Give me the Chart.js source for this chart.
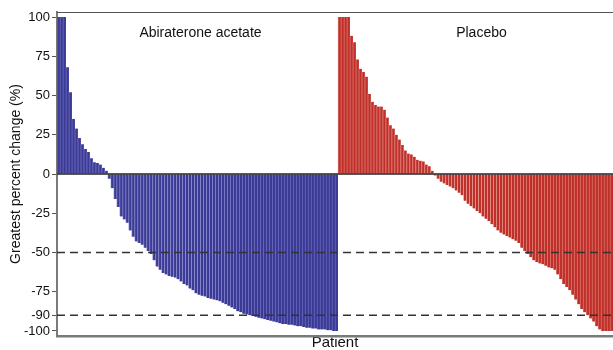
<!DOCTYPE html>
<html lang="en">
<head>
  <meta charset="UTF-8" />
  <title>Greatest percent change - waterfall</title>
  <script src="https://cdn.jsdelivr.net/npm/chart.js"></script>
  <style>
    body {
      margin: 0;
      background: #fff;
      font-family: Arial, "Liberation Sans", sans-serif;
    }
    #wrap {
      width: 613px;
      height: 350px;
    }
  </style>
</head>
<body>
  <div id="wrap"><canvas id="waterfall"></canvas></div>

  <script>
    // best change per patient, already sorted high -> low
    const abirateroneChange = [
      100, 100, 100, 68, 52, 35, 29, 23, 19, 16, 14, 10, 7.5, 7, 6, 4, 2,
      -3, -9, -16, -21, -27, -29, -31, -36, -40, -43, -44, -45, -47, -49, -51,
      -55, -59, -61, -63, -64, -65, -65.5, -66, -67, -68.5, -70, -71, -73, -74, -76,
      -77, -77.5, -78, -79, -79.5, -80, -80.5, -81, -82, -83, -84, -85, -86, -87.5,
      -88, -89, -89.5, -90, -90.5, -91, -91.5, -92, -92.5, -93, -93.5, -94, -94.5,
      -95, -95.5, -95.5, -96, -96, -96.5, -97, -97, -97.5, -98, -98, -98.5, -98.5,
      -99, -99, -99, -99.5, -99.5, -100, -100
    ];
    const placeboChange = [
      100, 100, 100, 100, 88, 84, 73, 67, 65, 62, 51, 46, 44, 43, 43, 41, 36, 31,
      29, 25, 22, 18.5, 15, 13, 12.5, 11, 9, 8.5, 8, 6, 5, 2,
      -1, -3, -5, -6, -7, -8, -9, -10.5, -12, -13.5, -17, -19, -20.5, -22, -23.5,
      -25, -27, -28.5, -30, -32, -34, -36, -37.5, -38.5, -39.5, -40.5, -41.5, -42.5,
      -44, -47, -49, -51, -53, -55, -56, -57, -57.5, -58.5, -59.5, -60, -61, -64,
      -67, -70, -72, -74, -77, -80, -83, -86, -88, -90, -92, -94, -97, -99,
      -100, -100, -100, -100
    ];
    const groupNames = ['Abiraterone acetate', 'Placebo'];
    const yTickValues = [100, 75, 50, 25, 0, -25, -50, -75, -90, -100];
    const refLines = [-50, -90];

    const nA = abirateroneChange.length;
    const nP = placeboChange.length;
    const patients = [];
    for (let i = 0; i < nA + nP; i++) patients.push(String(i + 1));

    // zero line, dashed thresholds, top frame and group names
    const overlay = {
      id: 'overlay',
      afterDatasetsDraw(chart) {
        const { ctx, chartArea: a, scales: { x, y } } = chart;
        ctx.save();

        ctx.strokeStyle = '#222';
        ctx.lineWidth = 1.6;
        const y0 = y.getPixelForValue(0);
        ctx.beginPath();
        ctx.moveTo(a.left, y0);
        ctx.lineTo(a.right, y0);
        ctx.stroke();

        ctx.setLineDash([8, 5]);
        ctx.strokeStyle = '#333';
        ctx.lineWidth = 1.5;
        refLines.forEach(v => {
          const py = y.getPixelForValue(v);
          ctx.beginPath();
          ctx.moveTo(a.left, py);
          ctx.lineTo(a.right, py);
          ctx.stroke();
        });

        ctx.setLineDash([]);
        ctx.strokeStyle = '#555';
        ctx.lineWidth = 1;
        ctx.beginPath();
        ctx.moveTo(a.left, a.top + 0.5);
        ctx.lineTo(a.right, a.top + 0.5);
        ctx.stroke();

        ctx.fillStyle = '#111';
        ctx.font = '14px Arial, "Liberation Sans", sans-serif';
        ctx.textAlign = 'center';
        ctx.textBaseline = 'middle';
        ctx.fillText(groupNames[0], x.getPixelForValue((nA - 1) / 2 + 1), a.top + 21);
        ctx.fillText(groupNames[1], x.getPixelForValue(nA + (nP - 1) / 2 + 2), a.top + 21);

        ctx.restore();
      }
    };

    window.onload = () => {
      const ctx = document.getElementById('waterfall').getContext('2d');
      new Chart(ctx, {
        type: 'bar',
        data: {
          labels: patients,
          datasets: [
            {
              label: groupNames[0],
              data: abirateroneChange.concat(placeboChange.map(() => null)),
              backgroundColor: '#3b3b96',
              borderColor: '#7676c6',
              borderWidth: { left: 0.8, right: 0, top: 0, bottom: 0 },
              borderSkipped: false,
              barPercentage: 1,
              categoryPercentage: 1,
              grouped: false
            },
            {
              label: groupNames[1],
              data: abirateroneChange.map(() => null).concat(placeboChange),
              backgroundColor: '#c0302b',
              borderColor: '#e2887c',
              borderWidth: { left: 0.8, right: 0, top: 0, bottom: 0 },
              borderSkipped: false,
              barPercentage: 1,
              categoryPercentage: 1,
              grouped: false
            }
          ]
        },
        options: {
          responsive: true,
          maintainAspectRatio: false,
          animation: false,
          layout: { padding: { top: 12, left: 0, right: 0, bottom: 0 } },
          scales: {
            x: {
              afterFit: s => { s.height = 14; },
              ticks: { display: false },
              grid: { drawOnChartArea: false, drawTicks: false },
              border: { display: true, color: '#7a7a7a', width: 2.5 },
              title: {
                display: true,
                text: 'Patient',
                color: '#111',
                font: { family: 'Arial, "Liberation Sans", sans-serif', size: 15, lineHeight: 0.9 },
                padding: { top: 0, bottom: 0 }
              }
            },
            y: {
              min: -103.2,
              max: 103.2,
              afterBuildTicks: s => { s.ticks = yTickValues.map(v => ({ value: v })); },
              afterFit: s => { s.width = 57; },
              ticks: {
                color: '#111',
                padding: 2,
                autoSkip: false,
                font: { family: 'Arial, "Liberation Sans", sans-serif', size: 13 }
              },
              grid: { drawOnChartArea: false, drawTicks: true, tickLength: 5, color: '#555' },
              border: { display: true, color: '#7a7a7a', width: 2 },
              title: {
                display: true,
                text: 'Greatest percent change (%)',
                color: '#111',
                font: { family: 'Arial, "Liberation Sans", sans-serif', size: 14 },
                padding: { top: 8, bottom: 0 }
              }
            }
          },
          plugins: {
            legend: { display: false },
            tooltip: { enabled: false }
          }
        },
        plugins: [overlay]
      });
    };
  </script>
</body>
</html>
